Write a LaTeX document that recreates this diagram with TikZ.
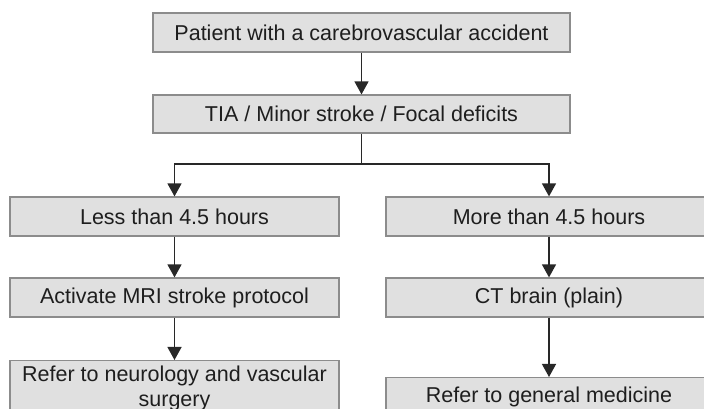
\documentclass[tikz,border=0pt]{standalone}
\usepackage{fontspec}
\setmainfont{Liberation Sans}
\usetikzlibrary{arrows.meta,calc}
\definecolor{boxfill}{RGB}{224,224,224}
\definecolor{boxline}{RGB}{140,140,140}
\definecolor{arrline}{RGB}{40,40,40}
\definecolor{txtcol}{RGB}{30,30,30}
\tikzset{
  box/.style={draw=boxline, line width=1.2pt, fill=boxfill, rectangle, inner sep=0pt,
    text=txtcol, font=\fontsize{21.5}{25}\selectfont},
  txt/.style={inner sep=0pt, text=txtcol, font=\fontsize{21.5}{25}\selectfont},
  arr/.style={draw=arrline, line width=1.3pt, -{Triangle[width=14pt,length=13pt]}}
}
\begin{document}
\begin{tikzpicture}[x=1pt,y=1pt]
\useasboundingbox (0,0) rectangle (704,409);
\fill[white] (0,0) rectangle (704,409);
\clip (0,0) rectangle (704,409);
% top row
\node[box, minimum width=417pt, minimum height=39pt] (b1) at (361.5,376.5) {Patient with a carebrovascular accident};
\node[box, minimum width=417pt, minimum height=38pt] (b2) at (361.5,295) {TIA / Minor stroke / Focal deficits};
% left column
\node[box, minimum width=329pt, minimum height=39pt] (l1) at (174.5,192.5) {Less than 4.5 hours};
\node[box, minimum width=329pt, minimum height=39pt] (l2) at (174.5,111.5) {Activate MRI stroke protocol};
\node[box, minimum width=329pt, minimum height=70pt, anchor=north] (l3) at (174.5,49) {};
\node[txt, align=center, anchor=north] (l3t) at ($(l3.north)+(0,-6)$) {Refer to neurology and vascular\\surgery};
% right column
\node[box, minimum width=326pt, minimum height=39pt] (r1) at (549,192.5) {More than 4.5 hours};
\node[box, minimum width=326pt, minimum height=39pt] (r2) at (549,111.5) {CT brain (plain)};
\node[box, minimum width=326pt, minimum height=60pt, anchor=north] (r3) at (549,32) {};
\node[txt, anchor=north] (r3t) at ($(r3.north)+(0,-9.5)$) {Refer to general medicine};
% connectors
\coordinate (j) at (361.5,245);
\draw[arr] (b1.south) -- (b2.north);
\draw[draw=arrline, line width=1.3pt] (b2.south) -- (j);
\draw[arr] (j) -| (l1.north);
\draw[arr] (j) -| (r1.north);
\draw[arr] (l1.south) -- (l2.north);
\draw[arr] (l2.south) -- (l3.north);
\draw[arr] (r1.south) -- (r2.north);
\draw[arr] (r2.south) -- (r3.north);
\end{tikzpicture}
\end{document}
